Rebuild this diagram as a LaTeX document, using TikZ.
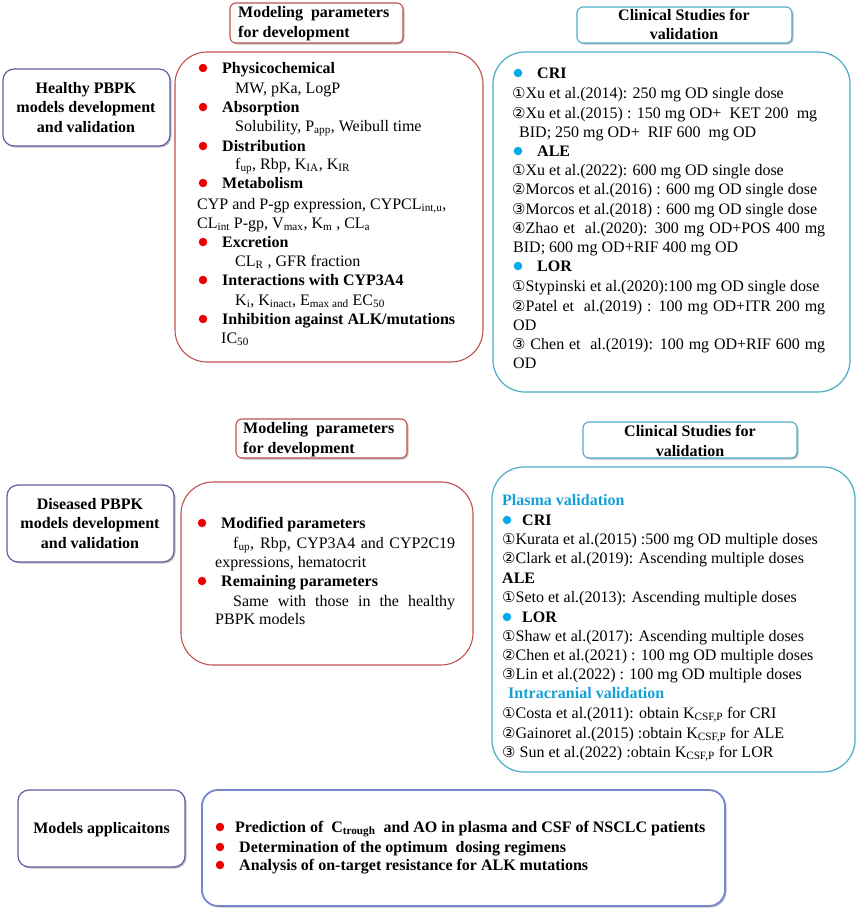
\documentclass[tikz,border=0pt]{standalone}
\usepackage{fontspec}
\setmainfont{Liberation Serif}
\newfontfamily\circfont{DejaVu Sans}
\usetikzlibrary{shadows}
\definecolor{redb}{RGB}{192,80,77}
\definecolor{cyanb}{RGB}{75,172,198}
\definecolor{purpb}{RGB}{100,90,165}
\definecolor{periw}{RGB}{115,135,205}
\definecolor{bulred}{RGB}{235,0,0}
\definecolor{bulblue}{RGB}{0,170,235}
\definecolor{ttblue}{RGB}{20,160,215}
\newcommand\sbs[1]{\textsubscript{#1}}
\newcommand\cn[1]{{\circfont\fontsize{15pt}{15pt}\selectfont #1}}
\begin{document}
\begin{tikzpicture}[x=1pt,y=-1pt,
  every node/.style={font=\fontsize{16pt}{19.5pt}\selectfont},
  shd/.style={drop shadow={shadow xshift=1.5pt,shadow yshift=-1.5pt,opacity=0.25,fill=black}},
  redbig/.style={draw=redb,line width=1.1pt,rounded corners=32pt,inner sep=0pt},
  cyanbig/.style={draw=cyanb,line width=1.2pt,rounded corners=32pt,inner sep=0pt},
  redhead/.style={draw=redb,line width=1.1pt,rounded corners=6pt,inner sep=0pt,fill=white,shd},
  cyanhead/.style={draw=cyanb,line width=1.1pt,rounded corners=6pt,inner sep=0pt,fill=white,shd},
  leftbox/.style={draw=purpb,line width=1.2pt,rounded corners=11pt,inner sep=0pt,fill=white,shd},
  botbox/.style={draw=periw,line width=1.8pt,rounded corners=16pt,inner sep=0pt,fill=white,shd},
  txt/.style={anchor=base west,inner sep=0pt,yshift=-5pt},
  btxt/.style={txt,font=\fontsize{16pt}{19.5pt}\selectfont\bfseries},
  ctr/.style={align=center,inner sep=0pt,font=\fontsize{16pt}{19.5pt}\selectfont\bfseries},
  rbul/.style={circle,fill=bulred,inner sep=0pt,minimum size=8.5pt},
  bbul/.style={circle,fill=bulblue,inner sep=0pt,minimum size=8.5pt}
]
\useasboundingbox (0,0) rectangle (858,911);
% ---------- boxes ----------
\node[leftbox,minimum width=167pt,minimum height=77pt] (hl) at (86.5,107.5) {};
\node[redhead,minimum width=173pt,minimum height=40pt] (mh1) at (316.5,23) {};
\node[redbig,minimum width=308pt,minimum height=310pt] (rb1) at (329,207) {};
\node[cyanhead,minimum width=215pt,minimum height=36pt] (ch1) at (684.5,25) {};
\node[cyanbig,minimum width=357pt,minimum height=340pt] (bb1) at (671.5,222) {};
\node[leftbox,minimum width=167pt,minimum height=77pt] (dl) at (90.5,523.5) {};
\node[redhead,minimum width=171pt,minimum height=39pt] (mh2) at (321.5,438.5) {};
\node[redbig,minimum width=292pt,minimum height=183pt] (rb2) at (327,573.5) {};
\node[cyanhead,minimum width=214pt,minimum height=36pt] (ch2) at (690,440) {};
\node[cyanbig,minimum width=363pt,minimum height=305pt] (bb2) at (673.5,619.5) {};
\node[leftbox,minimum width=167pt,minimum height=77pt] (ma) at (101.5,828.5) {};
\node[botbox,minimum width=523pt,minimum height=116pt] (bbot) at (463.5,848) {};
% ---------- box titles ----------
\node[ctr] (hlt) at (86,107.5) {Healthy PBPK\\models development\\and validation};
\node[ctr,align=left,anchor=west] (mh1t) at (238,23.5) {Modeling\ \ parameters\\for development};
\node[ctr] (ch1t) at (684,24.5) {Clinical Studies for\\validation};
\node[ctr] (dlt) at (90,523.5) {Diseased PBPK\\models development\\and validation};
\node[ctr,align=left,anchor=west] (mh2t) at (243,439.5) {Modeling\ \ parameters\\for development};
\node[ctr] (ch2t) at (690,441) {Clinical Studies for\\validation};
\node[ctr] (mat) at (101.5,830) {Models applicaitons};
% ---------- top red box ----------
\node[rbul] (r1) at (203,68) {};
\node[btxt] (r1t) at (222,68) {Physicochemical};
\node[txt] (r1a) at (235,88) {MW, pKa, LogP};
\node[rbul] (r2) at (203,107) {};
\node[btxt] (r2t) at (222,107) {Absorption};
\node[txt] (r2a) at (235,126) {Solubility, P\sbs{app}, Weibull time};
\node[rbul] (r3) at (203,146) {};
\node[btxt] (r3t) at (222,146) {Distribution};
\node[txt] (r3a) at (235,164) {f\sbs{up}, Rbp, K\sbs{IA}, K\sbs{IR}};
\node[rbul] (r4) at (203,183) {};
\node[btxt] (r4t) at (222,183) {Metabolism};
\node[txt] (r4a) at (197,204) {CYP and P-gp expression, CYPCL\sbs{int,u},};
\node[txt] (r4b) at (197,223) {CL\sbs{int} P-gp, V\sbs{max}, K\sbs{m} , CL\sbs{a}};
\node[rbul] (r5) at (203,242) {};
\node[btxt] (r5t) at (222,242) {Excretion};
\node[txt] (r5a) at (235,261) {CL\sbs{R} , GFR fraction};
\node[rbul] (r6) at (203,280) {};
\node[btxt] (r6t) at (222,280) {Interactions with CYP3A4};
\node[txt] (r6a) at (235,300) {K\sbs{i}, K\sbs{inact}, E\sbs{max and} EC\sbs{50}};
\node[rbul] (r7) at (203,319) {};
\node[btxt] (r7t) at (222,319) {Inhibition against ALK/mutations};
\node[txt] (r7a) at (221,338) {IC\sbs{50}};
% ---------- top cyan box ----------
\node[bbul] (c1) at (518,73) {};
\node[btxt] (c1t) at (537,73) {CRI};
\node[txt] (c1a) at (512,93) {\cn{①}Xu et al.(2014): 250 mg OD single dose};
\node[txt] (c1b) at (512,113) {\makebox[305pt][s]{\cn{②}Xu et al.(2015) : 150 mg OD+ \ KET 200 \ mg}};
\node[txt] (c1c) at (519,132) {BID; 250 mg OD+ \ RIF 600 \ mg OD};
\node[bbul] (c2) at (518,151) {};
\node[btxt] (c2t) at (537,151) {ALE};
\node[txt] (c2a) at (512,170) {\cn{①}Xu et al.(2022): 600 mg OD single dose};
\node[txt] (c2b) at (512,189) {\cn{②}Morcos et al.(2016) : 600 mg OD single dose};
\node[txt] (c2c) at (512,209) {\cn{③}Morcos et al.(2018) : 600 mg OD single dose};
\node[txt] (c2d) at (512,228) {\makebox[313pt][s]{\cn{④}Zhao et \ al.(2020): 300 mg OD+POS 400 mg}};
\node[txt] (c2e) at (513,247) {BID; 600 mg OD+RIF 400 mg OD};
\node[bbul] (c3) at (518,266) {};
\node[btxt] (c3t) at (537,266) {LOR};
\node[txt] (c3a) at (512,286) {\cn{①}Stypinski et al.(2020):100 mg OD single dose};
\node[txt] (c3b) at (512,306) {\makebox[313pt][s]{\cn{②}Patel et \ al.(2019) : 100 mg OD+ITR 200 mg}};
\node[txt] (c3c) at (513,325) {OD};
\node[txt] (c3d) at (512,344) {\makebox[313pt][s]{\cn{③} Chen et \ al.(2019): 100 mg OD+RIF 600 mg}};
\node[txt] (c3e) at (513,363) {OD};
% ---------- second red box ----------
\node[rbul] (s1) at (202,523) {};
\node[btxt] (s1t) at (221,523) {Modified parameters};
\node[txt] (s1a) at (233,543) {\makebox[222pt][s]{f\sbs{up}, Rbp, CYP3A4 and CYP2C19}};
\node[txt] (s1b) at (215,562) {expressions, hematocrit};
\node[rbul] (s2) at (202,581) {};
\node[btxt] (s2t) at (221,581) {Remaining parameters};
\node[txt] (s2a) at (233,601) {\makebox[222pt][s]{Same with those in the healthy}};
\node[txt] (s2b) at (215,619) {PBPK models};
% ---------- second cyan box ----------
\node[btxt,text=ttblue] (pv) at (502,500) {Plasma validation};
\node[bbul] (d1) at (507,520) {};
\node[btxt] (d1t) at (522,520) {CRI};
\node[txt] (d1a) at (502,539) {\cn{①}Kurata et al.(2015) :500 mg OD multiple doses};
\node[txt] (d1b) at (502,558) {\cn{②}Clark et al.(2019): Ascending multiple doses};
\node[btxt] (d2t) at (502,578) {ALE};
\node[txt] (d2a) at (502,597) {\cn{①}Seto et al.(2013): Ascending multiple doses};
\node[bbul] (d3) at (507,617) {};
\node[btxt] (d3t) at (522,617) {LOR};
\node[txt] (d3a) at (502,636) {\cn{①}Shaw et al.(2017): Ascending multiple doses};
\node[txt] (d3b) at (502,655) {\cn{②}Chen et al.(2021) : 100 mg OD multiple doses};
\node[txt] (d3c) at (502,674) {\cn{③}Lin et al.(2022) : 100 mg OD multiple doses};
\node[btxt,text=ttblue] (iv) at (508,693) {Intracranial validation};
\node[txt] (e1) at (502,713) {\cn{①}Costa et al.(2011): obtain K\sbs{CSF,P} for CRI};
\node[txt] (e2) at (502,733) {\cn{②}Gainoret al.(2015) :obtain K\sbs{CSF,P} for ALE};
\node[txt] (e3) at (502,752) {\cn{③} Sun et al.(2022) :obtain K\sbs{CSF,P} for LOR};
% ---------- bottom box ----------
\node[rbul] (f1) at (220,827) {};
\node[btxt] (f1t) at (235,827) {Prediction of \ C\sbs{trough} \ and AO in plasma and CSF of NSCLC patients};
\node[rbul] (f2) at (220,847) {};
\node[btxt] (f2t) at (239,847) {Determination of the optimum \ dosing regimens};
\node[rbul] (f3) at (220,865) {};
\node[btxt] (f3t) at (239,865) {Analysis of on-target resistance for ALK mutations};
\end{tikzpicture}
\end{document}
